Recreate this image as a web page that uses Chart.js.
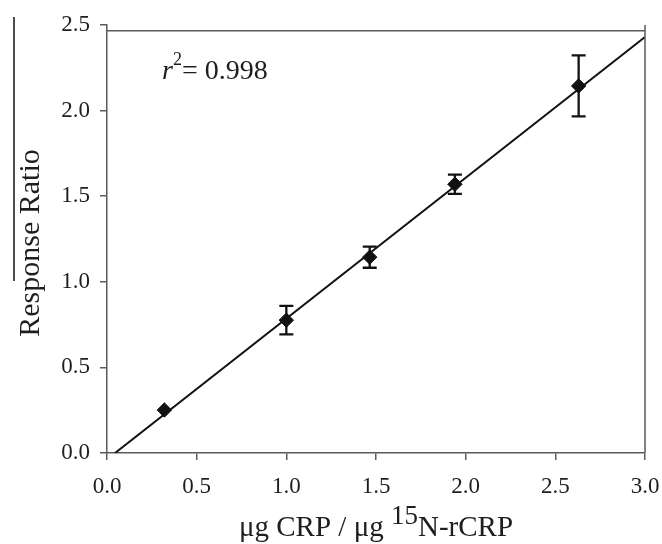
<!DOCTYPE html>
<html>
<head>
<meta charset="utf-8">
<script src="https://cdn.jsdelivr.net/npm/chart.js@4/dist/chart.umd.min.js"></script>
<style>
  html, body { margin: 0; padding: 0; background: #fff; }
  #wrap { width: 662px; height: 544px; }
</style>
</head>
<body>
<div id="wrap"><canvas id="c" width="662" height="544"></canvas></div>
<script>
// ---- data ----
const ratioX = [0.32, 1.00, 1.465, 1.94, 2.63];      // µg CRP / µg 15N-rCRP
const ratioY = [0.251, 0.776, 1.144, 1.570, 2.144];  // Response Ratio
const ratioErr = [0.01, 0.083, 0.062, 0.056, 0.178]; // error bar half-heights
const fitX = [0.045, 3.0];                           // regression line ends
const fitY = [0.0, 2.43];
const xTicks = [0, 0.5, 1.0, 1.5, 2.0, 2.5, 3.0];
const yTicks = [0, 0.5, 1.0, 1.5, 2.0, 2.5];
const r2Label = '0.998';
const yTitle = 'Response Ratio';
const xTitleParts = ['\u03bcg CRP / \u03bcg ', '15', 'N-rCRP'];

const SERIF = '"Liberation Serif", "Times New Roman", serif';
const AXIS = '#5a5a5a';
const TEXT = '#1e1e1e';

const points = ratioX.map((x, i) => ({ x: x, y: ratioY[i] }));
const fitLine = fitX.map((x, i) => ({ x: x, y: fitY[i] }));

const deco = {
  id: 'deco',
  beforeDatasetsDraw(chart) {
    const ctx = chart.ctx, xs = chart.scales.x, ys = chart.scales.y;
    ctx.save();
    ctx.strokeStyle = '#111';
    ctx.lineWidth = 2.3;
    ratioX.forEach((x, i) => {
      const px = xs.getPixelForValue(x);
      const top = ys.getPixelForValue(ratioY[i] + ratioErr[i]);
      const bot = ys.getPixelForValue(ratioY[i] - ratioErr[i]);
      if (bot - top < 10) return;
      ctx.beginPath();
      ctx.moveTo(px, top); ctx.lineTo(px, bot);
      ctx.moveTo(px - 7, top); ctx.lineTo(px + 7, top);
      ctx.moveTo(px - 7, bot); ctx.lineTo(px + 7, bot);
      ctx.stroke();
    });
    ctx.restore();
  },
  afterDraw(chart) {
    const ctx = chart.ctx, a = chart.chartArea, xs = chart.scales.x, ys = chart.scales.y;
    ctx.save();
    // frame: right side and top line
    ctx.strokeStyle = AXIS;
    ctx.lineWidth = 1.5;
    ctx.beginPath();
    ctx.moveTo(a.right, a.top); ctx.lineTo(a.right, a.bottom);
    const ty = ys.getPixelForValue(2.467);
    ctx.moveTo(a.left, ty); ctx.lineTo(a.right, ty);
    ctx.stroke();
    // stray line at the left edge of the reference
    ctx.strokeStyle = '#111';
    ctx.lineWidth = 1.5;
    ctx.beginPath();
    ctx.moveTo(14, 17); ctx.lineTo(14, 281);
    ctx.stroke();

    ctx.fillStyle = TEXT;
    // y title
    ctx.save();
    ctx.translate(31, (a.top + a.bottom) / 2 + 4);
    ctx.rotate(-Math.PI / 2);
    ctx.font = '30px ' + SERIF;
    ctx.textAlign = 'center';
    ctx.textBaseline = 'middle';
    ctx.fillText(yTitle, 0, 0);
    ctx.restore();

    // x title with raised "15"
    ctx.textBaseline = 'alphabetic';
    ctx.textAlign = 'left';
    const big = '29px ' + SERIF, small = '27px ' + SERIF;
    ctx.font = big; const w0 = ctx.measureText(xTitleParts[0]).width;
    ctx.font = small; const w1 = ctx.measureText(xTitleParts[1]).width;
    ctx.font = big; const w2 = ctx.measureText(xTitleParts[2]).width;
    let x0 = (a.left + a.right) / 2 - (w0 + w1 + w2) / 2;
    const base = 536;
    ctx.font = big; ctx.fillText(xTitleParts[0], x0, base);
    ctx.font = small; ctx.fillText(xTitleParts[1], x0 + w0, base - 12);
    ctx.font = big; ctx.fillText(xTitleParts[2], x0 + w0 + w1, base);

    // r^2 annotation
    const rb = 79;
    let rx = 162;
    ctx.font = 'italic 28px ' + SERIF;
    ctx.fillText('r', rx, rb);
    rx += ctx.measureText('r').width;
    ctx.font = '18px ' + SERIF;
    ctx.fillText('2', rx, rb - 14);
    rx += ctx.measureText('2').width;
    ctx.font = '28px ' + SERIF;
    ctx.fillText('= ' + r2Label, rx, rb);
    ctx.restore();
  }
};

new Chart(document.getElementById('c'), {
  type: 'scatter',
  data: {
    datasets: [
      {
        label: 'fit',
        type: 'line',
        data: fitLine,
        borderColor: '#111',
        borderWidth: 2,
        pointRadius: 0,
        fill: false,
        tension: 0,
        order: 2
      },
      {
        label: 'Response Ratio',
        data: points,
        pointStyle: 'rectRot',
        pointRadius: 7.2,
        pointHoverRadius: 7.2,
        backgroundColor: '#111',
        borderColor: '#111',
        borderWidth: 1,
        order: 1
      }
    ]
  },
  options: {
    responsive: false,
    animation: false,
    devicePixelRatio: 1,
    layout: { padding: { top: 25, right: 17, left: 0, bottom: 0 } },
    plugins: { legend: { display: false }, tooltip: { enabled: false } },
    scales: {
      x: {
        type: 'linear',
        min: 0, max: 3,
        afterBuildTicks: s => { s.ticks = xTicks.map(v => ({ value: v })); },
        afterFit: s => { s.height = 91; s.paddingLeft = 0; s.paddingRight = 0; },
        ticks: {
          callback: v => Number(v).toFixed(1),
          font: { family: SERIF, size: 23 },
          color: TEXT,
          padding: 13,
          maxRotation: 0
        },
        grid: { drawOnChartArea: false, drawTicks: true, tickLength: 7, color: AXIS, lineWidth: 1.5 },
        border: { display: true, color: AXIS, width: 1.5 },
        title: { display: false }
      },
      y: {
        type: 'linear',
        min: 0, max: 2.5,
        afterBuildTicks: s => { s.ticks = yTicks.map(v => ({ value: v })); },
        afterFit: s => { s.width = 107; s.paddingTop = 0; s.paddingBottom = 0; },
        ticks: {
          callback: v => Number(v).toFixed(1),
          font: { family: SERIF, size: 23 },
          color: TEXT,
          padding: 10
        },
        grid: { drawOnChartArea: false, drawTicks: true, tickLength: 7, color: AXIS, lineWidth: 1.5 },
        border: { display: true, color: AXIS, width: 1.5 },
        title: { display: false }
      }
    }
  },
  plugins: [deco]
});
</script>
</body>
</html>
